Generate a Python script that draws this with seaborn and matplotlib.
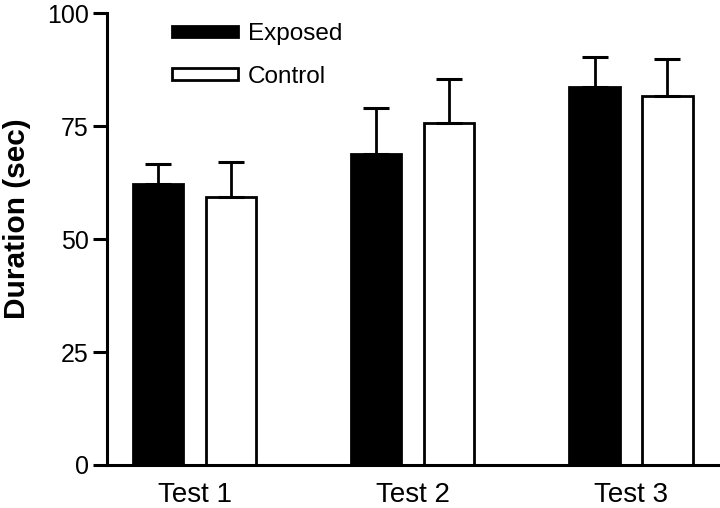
import matplotlib
matplotlib.use("Agg")
import matplotlib.pyplot as plt
import seaborn as sns
import pandas as pd
import numpy as np
from matplotlib.patches import Patch

tests = ["Test 1", "Test 2", "Test 3"]
groups = ["Exposed", "Control"]
exposed_mean = [62.2, 68.8, 83.6]
control_mean = [59.2, 75.6, 81.6]
exposed_err = [4.4, 10.2, 6.7]
control_err = [7.9, 9.9, 8.2]

sns.set_theme(style="ticks")
plt.rcParams["font.family"] = ["Liberation Sans", "DejaVu Sans"]
plt.rcParams["text.color"] = "black"
plt.rcParams["axes.labelcolor"] = "black"
plt.rcParams["xtick.color"] = "black"
plt.rcParams["ytick.color"] = "black"

df = pd.DataFrame({
    "test": tests * 2,
    "group": [groups[0]] * 3 + [groups[1]] * 3,
    "value": exposed_mean + control_mean,
})

fig = plt.figure(figsize=(7.2, 5.08), dpi=100)
ax = fig.add_axes([107 / 720, 1 - 465 / 508, 1 - 107 / 720, (465 - 13) / 508])

sns.barplot(data=df, x="test", y="value", hue="group", hue_order=groups,
            palette={"Exposed": "black", "Control": "white"},
            width=0.668, gap=0.31, errorbar=None, edgecolor="black",
            linewidth=2.0, ax=ax, legend=False, saturation=1)

errs = [exposed_err, control_err]
for cont, err in zip(ax.containers, errs):
    xs = [p.get_x() + p.get_width() / 2 for p in cont.patches]
    hs = [p.get_height() for p in cont.patches]
    ax.errorbar(xs, hs, yerr=[np.zeros(len(err)), err], fmt="none",
                ecolor="black", elinewidth=2.0, capsize=9.7, capthick=2.2,
                zorder=1)

ax.set_ylim(0, 100)
ax.set_xlim(-0.401, 2.408)
ax.set_yticks([0, 25, 50, 75, 100])
ax.set_xlabel("")
ax.set_ylabel("Duration (sec)", fontsize=21.5, fontweight="bold", color="black")
ax.yaxis.set_label_coords(-0.124, 0.544)

for s in ["top", "right"]:
    ax.spines[s].set_visible(False)
for s in ["left", "bottom"]:
    ax.spines[s].set_linewidth(2.2)
    ax.spines[s].set_color("black")

ax.tick_params(axis="y", length=10, width=2.2, labelsize=18, pad=3,
               colors="black", labelcolor="black")
ax.tick_params(axis="x", length=0, labelsize=20, pad=12,
               colors="black", labelcolor="black")

handles = [Patch(facecolor="black", edgecolor="black", linewidth=2.0),
           Patch(facecolor="white", edgecolor="black", linewidth=2.0)]
leg = fig.legend(handles, groups, loc="upper left",
                 bbox_to_anchor=(172 / 720, 1 - 23 / 508), frameon=False,
                 fontsize=17.5, handlelength=2.7, handleheight=0.33,
                 handletextpad=0.42, labelspacing=0.85, borderpad=0,
                 borderaxespad=0, labelcolor="black")

fig.savefig("out.png", dpi=100)
